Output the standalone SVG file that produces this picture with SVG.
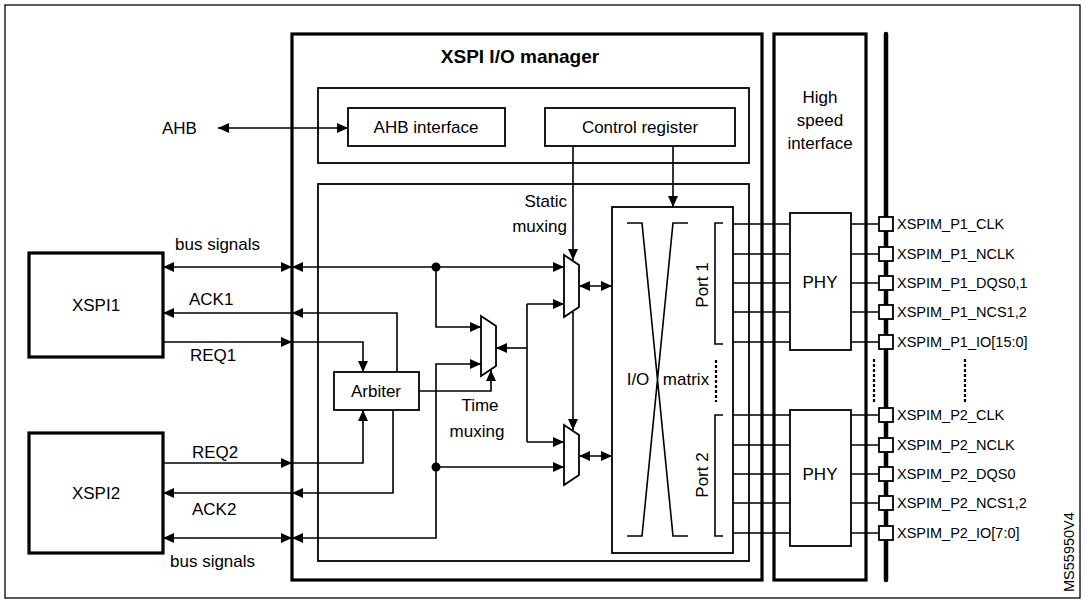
<svg xmlns="http://www.w3.org/2000/svg" width="1085" height="605" viewBox="0 0 1085 605">
<style>
text{font-family:"Liberation Sans",Arial,sans-serif;font-size:17px;fill:#000}
.t{font-size:14.5px}
.b{font-weight:bold;font-size:19px}
.box{fill:#fff;stroke:#000;stroke-width:1.8}
.thk{fill:none;stroke:#000;stroke-width:3.2}
.ln{fill:none;stroke:#000;stroke-width:1.6}
.a{marker-end:url(#ah)}
.aa{marker-end:url(#ah);marker-start:url(#ah)}
.dot{fill:none;stroke:#000;stroke-width:2.2;stroke-dasharray:3 2}
</style>
<defs>
<marker id="ah" viewBox="0 0 11 10" refX="11" refY="5" markerWidth="11" markerHeight="10" markerUnits="userSpaceOnUse" orient="auto-start-reverse"><path d="M0,0 L11,5 L0,10 z"/></marker>
</defs>
<rect x="5" y="5" width="1075" height="593" fill="#fff" stroke="#000" stroke-width="1.3"/>
<g id="manager"><rect x="292" y="34" width="470" height="546" class="thk"/><text x="520" y="63" text-anchor="middle" class="b">XSPI I/O manager</text></g>
<g id="topbox"><rect x="318" y="88" width="431" height="75" class="box"/></g>
<g id="ahbif"><rect x="348" y="108" width="157" height="38" class="box"/><text x="426" y="133" text-anchor="middle">AHB interface</text></g>
<g id="ctrlreg"><rect x="545" y="108" width="190" height="38" class="box"/><text x="640" y="133" text-anchor="middle">Control register</text></g>
<g id="corebox"><rect x="318" y="184" width="431" height="377" class="box"/></g>
<g id="hsi"><rect x="774" y="34" width="92" height="546" class="thk"/><text x="820" y="103" text-anchor="middle">High</text><text x="820" y="126" text-anchor="middle">speed</text><text x="820" y="149" text-anchor="middle">interface</text></g>
<g id="xspi1"><rect x="29" y="253" width="134" height="104" class="thk" fill="#fff"/><text x="96" y="311" text-anchor="middle">XSPI1</text></g>
<g id="xspi2"><rect x="29" y="433" width="134" height="120" class="thk" fill="#fff"/><text x="96" y="499" text-anchor="middle">XSPI2</text></g>
<g id="arbiter"><rect x="334" y="372" width="85" height="38" class="box"/><text x="376" y="397" text-anchor="middle">Arbiter</text></g>
<g id="mux1"><polygon points="564,255 579,265 579,307 564,317" class="box"/></g>
<g id="mux2"><polygon points="564,425 579,435 579,475 564,485" class="box"/></g>
<g id="tmux"><polygon points="481,316 496,326 496,366 481,376" class="box"/></g>
<g id="matrix"><rect x="612" y="207" width="121" height="346" class="box"/>
<path d="M627,223 H642 L673,536 H688 M627,536 H642 L673,223 H688" class="ln"/>
<path d="M723,223 H715 V344 H723 M723,415 H715 V536 H723" class="ln"/>
<line x1="716" y1="360" x2="716" y2="402" class="dot"/>
<text x="638" y="385" text-anchor="middle">I/O</text><text x="686" y="385" text-anchor="middle">matrix</text>
<text transform="translate(708,285) rotate(-90)" text-anchor="middle">Port 1</text>
<text transform="translate(708,475) rotate(-90)" text-anchor="middle">Port 2</text></g>
<g id="phy1"><rect x="790" y="213" width="61" height="137" class="box"/><text x="820" y="288" text-anchor="middle">PHY</text></g>
<g id="phy2"><rect x="790" y="410" width="61" height="136" class="box"/><text x="820" y="480" text-anchor="middle">PHY</text></g>
<g id="connectors">
<line x1="218" y1="128" x2="348" y2="128" class="ln aa"/>
<line x1="163" y1="267" x2="292" y2="267" class="ln aa"/>
<line x1="292" y1="267" x2="564" y2="267" class="ln aa"/>
<line x1="292" y1="313" x2="163" y2="313" class="ln a"/>
<path d="M397,372 V313 H292" class="ln a"/>
<line x1="163" y1="342" x2="292" y2="342" class="ln a"/>
<path d="M292,342 H363 V372" class="ln a"/>
<line x1="163" y1="463" x2="292" y2="463" class="ln a"/>
<path d="M292,463 H363 V410" class="ln a"/>
<path d="M393,410 V493 H292" class="ln a"/>
<line x1="292" y1="493" x2="163" y2="493" class="ln a"/>
<line x1="163" y1="538" x2="292" y2="538" class="ln aa"/>
<path d="M292,538 H436 V364 H481" class="ln aa"/>
<path d="M436,267 V327 H481" class="ln a"/>
<path d="M436,467 H564" class="ln a"/>
<circle cx="436" cy="267" r="4.5"/><circle cx="436" cy="467" r="4.5"/>
<path d="M419,391 H491 V370" class="ln a"/>
<path d="M527,304 V442" class="ln"/>
<line x1="527" y1="304" x2="564" y2="304" class="ln a"/>
<line x1="527" y1="442" x2="564" y2="442" class="ln a"/>
<line x1="527" y1="348" x2="496" y2="348" class="ln a"/>
<line x1="573" y1="146" x2="573" y2="260" class="ln a"/>
<line x1="573" y1="312" x2="573" y2="430" class="ln a"/>
<line x1="673" y1="146" x2="673" y2="207" class="ln a"/>
<line x1="579" y1="286" x2="612" y2="286" class="ln aa"/>
<line x1="579" y1="456" x2="612" y2="456" class="ln aa"/>
<path d="M733,224 H790 M733,254 H790 M733,283 H790 M733,312 H790 M733,342 H790 M733,415 H790 M733,445 H790 M733,474 H790 M733,503 H790 M733,533 H790" class="ln"/>
<path d="M851,224 H879 M851,254 H879 M851,283 H879 M851,312 H879 M851,342 H879 M851,415 H879 M851,445 H879 M851,474 H879 M851,503 H879 M851,533 H879" class="ln"/>
<line x1="874" y1="359" x2="874" y2="402" class="dot"/>
<line x1="965" y1="359" x2="965" y2="402" class="dot"/>
</g>
<g id="bus"><line x1="886" y1="34" x2="886" y2="580" stroke="#000" stroke-width="4.5" stroke-linecap="round"/>
<g class="box"><rect x="879" y="217" width="14" height="14"/><rect x="879" y="247" width="14" height="14"/><rect x="879" y="276" width="14" height="14"/><rect x="879" y="305" width="14" height="14"/><rect x="879" y="335" width="14" height="14"/><rect x="879" y="408" width="14" height="14"/><rect x="879" y="438" width="14" height="14"/><rect x="879" y="467" width="14" height="14"/><rect x="879" y="496" width="14" height="14"/><rect x="879" y="526" width="14" height="14"/></g>
<text x="897" y="229" class="t">XSPIM_P1_CLK</text><text x="897" y="259" class="t">XSPIM_P1_NCLK</text><text x="897" y="288" class="t">XSPIM_P1_DQS0,1</text><text x="897" y="317" class="t">XSPIM_P1_NCS1,2</text><text x="897" y="347" class="t">XSPIM_P1_IO[15:0]</text>
<text x="897" y="420" class="t">XSPIM_P2_CLK</text><text x="897" y="450" class="t">XSPIM_P2_NCLK</text><text x="897" y="479" class="t">XSPIM_P2_DQS0</text><text x="897" y="508" class="t">XSPIM_P2_NCS1,2</text><text x="897" y="538" class="t">XSPIM_P2_IO[7:0]</text></g>
<g id="labels">
<text x="162" y="134">AHB</text>
<text x="175" y="250">bus signals</text>
<text x="189" y="305">ACK1</text>
<text x="190" y="361">REQ1</text>
<text x="192" y="458">REQ2</text>
<text x="192" y="515">ACK2</text>
<text x="170" y="567">bus signals</text>
<text x="567" y="207" text-anchor="end">Static</text><text x="567" y="232" text-anchor="end">muxing</text>
<text x="480" y="411" text-anchor="middle">Time</text><text x="477" y="437" text-anchor="middle">muxing</text>
<text transform="translate(1074,592) rotate(-90)" class="t">MS55950V4</text>
</g>
</svg>
